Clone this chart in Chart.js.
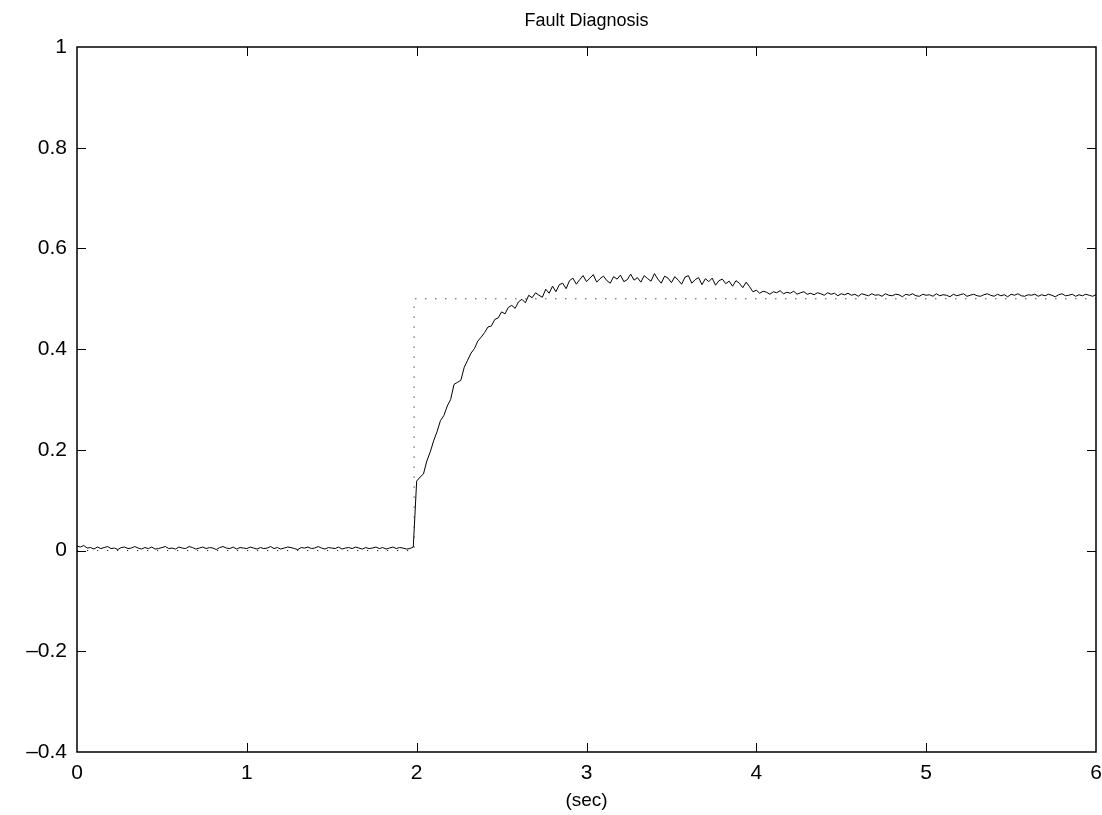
<!DOCTYPE html>
<html lang="en">
  <head>
    <meta charset="UTF-8" />
    <title>Fault Diagnosis</title>
    <style>
      * {
        margin: 0;
        padding: 0;
        box-sizing: border-box;
      }
      body {
        background: white;
      }
      .chartBox {
        width: 1102px;
        height: 815px;
      }
    </style>
  </head>
  <body>
    <div class="chartBox">
      <canvas id="myChart"></canvas>
    </div>

    <script src="https://cdn.jsdelivr.net/npm/chart.js"></script>
    <script>
      // sampled every 0.02 s from t = 0 to t = 6
      const sampleStep = 0.02;
      const response = [
        // 0.00 - 1.98
        0.009,0.007,0.010,0.005,0.006,0.003,0.007,0.004,0.006,0.008,
        0.004,0.005,0.002,0.006,0.007,0.004,0.005,0.008,0.005,0.003,
        0.006,0.004,0.007,0.003,0.004,0.006,0.008,0.004,0.005,0.003,
        0.007,0.005,0.004,0.008,0.006,0.003,0.005,0.007,0.004,0.006,
        0.005,0.002,0.006,0.008,0.005,0.004,0.007,0.003,0.006,0.005,
        0.004,0.007,0.005,0.003,0.006,0.004,0.005,0.008,0.004,0.006,
        0.003,0.005,0.007,0.006,0.004,0.002,0.006,0.005,0.007,0.004,
        0.005,0.008,0.005,0.003,0.006,0.005,0.004,0.007,0.003,0.005,
        0.006,0.004,0.007,0.005,0.003,0.006,0.004,0.005,0.007,0.004,
        0.006,0.003,0.005,0.007,0.004,0.006,0.005,0.003,0.004,0.007,
        // 2.00 - 2.90
        0.138,0.146,0.152,0.178,0.196,0.218,0.236,0.258,0.268,0.287,
        0.300,0.330,0.334,0.338,0.364,0.378,0.392,0.401,0.416,0.424,
        0.433,0.444,0.446,0.459,0.462,0.474,0.470,0.483,0.487,0.481,
        0.494,0.499,0.492,0.507,0.502,0.512,0.507,0.503,0.519,0.511,
        0.525,0.514,0.528,0.531,0.520,0.536,
        // 2.92 - 3.90
        0.541,0.529,0.538,0.546,0.534,0.541,0.548,0.533,0.540,0.545,
        0.536,0.531,0.544,0.539,0.547,0.534,0.538,0.549,0.537,0.542,
        0.533,0.546,0.540,0.535,0.550,0.539,0.531,0.545,0.541,0.532,
        0.544,0.537,0.529,0.543,0.546,0.531,0.538,0.542,0.528,0.540,
        0.534,0.541,0.527,0.536,0.539,0.530,0.535,0.525,0.536,0.531,
        // 3.92 - 4.70
        0.522,0.533,0.524,0.514,0.517,0.511,0.515,0.513,0.509,0.514,
        0.512,0.516,0.510,0.513,0.511,0.515,0.509,0.512,0.514,0.509,
        0.511,0.508,0.512,0.510,0.507,0.512,0.509,0.511,0.506,0.510,
        0.508,0.511,0.507,0.509,0.505,0.510,0.508,0.506,0.510,0.507,
        // 4.72 - 6.00
        0.508,0.505,0.510,0.507,0.506,0.509,0.508,0.504,0.509,0.507,
        0.510,0.506,0.505,0.509,0.507,0.508,0.505,0.510,0.506,0.508,
        0.507,0.504,0.509,0.506,0.508,0.510,0.505,0.507,0.509,0.506,
        0.505,0.508,0.510,0.507,0.505,0.509,0.506,0.508,0.504,0.509,
        0.507,0.510,0.506,0.505,0.508,0.507,0.509,0.505,0.508,0.506,
        0.509,0.507,0.504,0.508,0.510,0.506,0.507,0.509,0.505,0.508,
        0.506,0.509,0.507,0.505,0.508,
      ];

      // dotted reference step
      const refTimes = [0, 1.985, 1.985, 6];
      const refValues = [0, 0, 0.5, 0.5];

      const xTicks = [0, 1, 2, 3, 4, 5, 6];
      const yTicks = [-0.4, -0.2, 0, 0.2, 0.4, 0.6, 0.8, 1];

      const fontFamily = "'Liberation Sans', Arial, Helvetica, sans-serif";

      const ctx = document.getElementById("myChart");

      const data = {
        datasets: [
          {
            data: refTimes.map((t, i) => ({ x: t, y: refValues[i] })),
            borderColor: "#222",
            borderWidth: 1,
            borderDash: [1.2, 8.8],
            pointRadius: 0,
            tension: 0,
          },
          {
            data: response.map((v, i) => ({ x: i * sampleStep, y: v })),
            borderColor: "#000",
            borderWidth: 1,
            pointRadius: 0,
            tension: 0,
          },
        ],
      };

      // matlab style box with inward ticks on all four sides
      const matlabBox = {
        id: "matlabBox",
        afterDraw(chart) {
          const {
            ctx,
            chartArea: { top, bottom, left, right },
            scales: { x, y },
          } = chart;
          ctx.save();
          ctx.strokeStyle = "#000";
          ctx.lineWidth = 1;
          const tl = 9;
          ctx.beginPath();
          xTicks.forEach((t) => {
            const px = Math.round(x.getPixelForValue(t)) + 0.5;
            if (t === xTicks[0] || t === xTicks[xTicks.length - 1]) return;
            ctx.moveTo(px, bottom);
            ctx.lineTo(px, bottom - tl);
            ctx.moveTo(px, top);
            ctx.lineTo(px, top + tl);
          });
          yTicks.forEach((v) => {
            const py = Math.round(y.getPixelForValue(v)) + 0.5;
            if (v === yTicks[0] || v === yTicks[yTicks.length - 1]) return;
            ctx.moveTo(left, py);
            ctx.lineTo(left + tl, py);
            ctx.moveTo(right, py);
            ctx.lineTo(right - tl, py);
          });
          ctx.stroke();
          ctx.lineWidth = 1.5;
          ctx.strokeRect(left, top, right - left, bottom - top);
          ctx.restore();
        },
      };

      const config = {
        type: "line",
        data: data,
        options: {
          responsive: true,
          maintainAspectRatio: false,
          animation: false,
          layout: { padding: 0 },
          plugins: {
            legend: { display: false },
            tooltip: { enabled: false },
            title: { display: false },
          },
          scales: {
            // top axis only carries the title, centred over the plot box
            top: {
              type: "linear",
              position: "top",
              min: 0,
              max: 6,
              afterFit: (scale) => {
                scale.height = 47;
              },
              grid: { display: false, drawTicks: false },
              border: { display: false },
              ticks: { display: false },
              title: {
                display: true,
                text: "Fault Diagnosis",
                color: "#000",
                font: { family: fontFamily, size: 18, lineHeight: 1.2 },
                padding: { top: 10, bottom: 0 },
              },
            },
            x: {
              type: "linear",
              position: "bottom",
              min: 0,
              max: 6,
              afterBuildTicks: (scale) => {
                scale.ticks = xTicks.map((v) => ({ value: v }));
              },
              afterFit: (scale) => {
                scale.height = 63;
                scale.paddingLeft = 0;
                scale.paddingRight = 6;
              },
              grid: { display: false, drawTicks: false },
              border: { display: false },
              ticks: {
                color: "#000",
                padding: 9,
                maxRotation: 0,
                font: { family: fontFamily, size: 21, lineHeight: 1.2 },
                callback: (v) => String(v),
              },
              title: {
                display: true,
                text: "(sec)",
                color: "#000",
                font: { family: fontFamily, size: 19, lineHeight: 1.2 },
                padding: { top: 0, bottom: 3 },
              },
            },
            y: {
              type: "linear",
              min: -0.4,
              max: 1,
              afterBuildTicks: (scale) => {
                scale.ticks = yTicks.map((v) => ({ value: v }));
              },
              afterFit: (scale) => {
                scale.width = 77;
              },
              grid: { display: false, drawTicks: false },
              border: { display: false },
              ticks: {
                color: "#000",
                padding: 10,
                font: { family: fontFamily, size: 21, lineHeight: 1.2 },
                callback: (v) => String(parseFloat(v.toFixed(1))).replace("-", "\u2013"),
              },
            },
          },
        },
        plugins: [matlabBox],
      };

      const myChart = new Chart(ctx, config);
    </script>
  </body>
</html>
